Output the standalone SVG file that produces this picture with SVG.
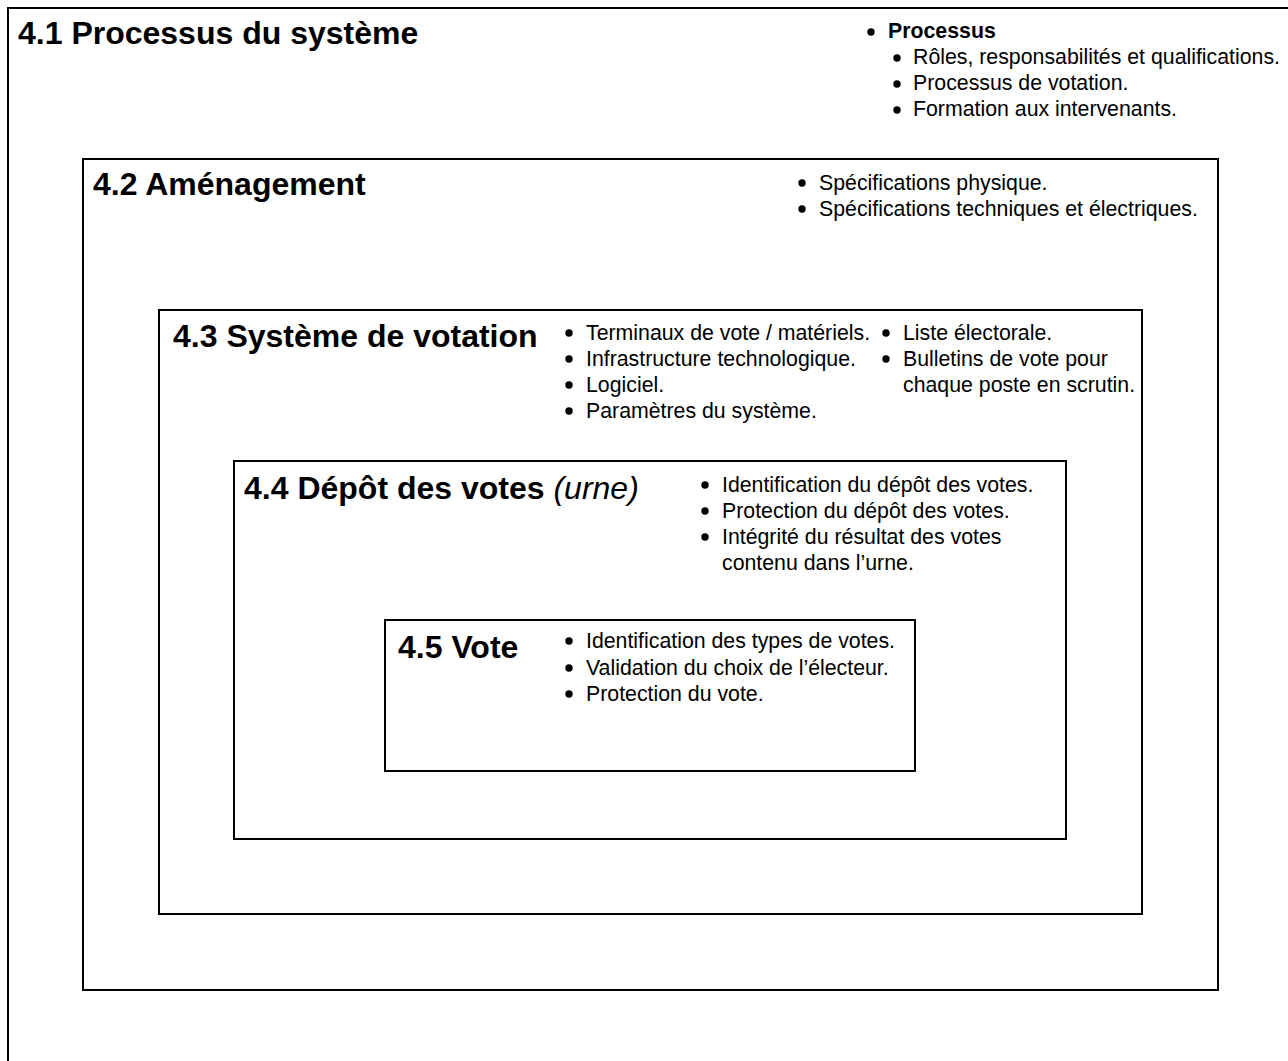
<svg xmlns="http://www.w3.org/2000/svg" width="1288" height="1061" viewBox="0 0 1288 1061">
<style>
.box{fill:none;stroke:#000;stroke-width:2}
.t{font-family:"Liberation Sans",Arial,sans-serif;font-weight:bold;font-size:32px;fill:#000}
.b{font-family:"Liberation Sans",Arial,sans-serif;font-size:21.3px;fill:#000}
.bb{font-family:"Liberation Sans",Arial,sans-serif;font-size:21.3px;font-weight:bold;fill:#000}
.i{font-weight:normal;font-style:italic}
.dot{fill:#000}
</style>
<rect width="1288" height="1061" fill="#fff"/>
<g id="n41">
<rect class="box" x="8" y="8" width="1300" height="1070"/>
<text class="t" x="18" y="44">4.1 Processus du système</text>
<circle class="dot" cx="871" cy="32" r="3.7"/><text class="bb" x="888" y="38">Processus</text>
<circle class="dot" cx="897" cy="58" r="3.7"/><text class="b" x="913" y="64">Rôles, responsabilités et qualifications.</text>
<circle class="dot" cx="897" cy="84" r="3.7"/><text class="b" x="913" y="90">Processus de votation.</text>
<circle class="dot" cx="897" cy="110" r="3.7"/><text class="b" x="913" y="116">Formation aux intervenants.</text>
</g>
<g id="n42">
<rect class="box" x="83" y="159" width="1135" height="831"/>
<text class="t" x="93" y="195">4.2 Aménagement</text>
<circle class="dot" cx="802" cy="183" r="3.7"/><text class="b" x="819" y="190">Spécifications physique.</text>
<circle class="dot" cx="802" cy="209" r="3.7"/><text class="b" x="819" y="216">Spécifications techniques et électriques.</text>
</g>
<g id="n43">
<rect class="box" x="159" y="310" width="983" height="604"/>
<text class="t" x="173" y="347">4.3 Système de votation</text>
<circle class="dot" cx="569" cy="333" r="3.7"/><text class="b" x="586" y="340">Terminaux de vote / matériels.</text>
<circle class="dot" cx="569" cy="359" r="3.7"/><text class="b" x="586" y="366">Infrastructure technologique.</text>
<circle class="dot" cx="569" cy="385" r="3.7"/><text class="b" x="586" y="392">Logiciel.</text>
<circle class="dot" cx="569" cy="411" r="3.7"/><text class="b" x="586" y="418">Paramètres du système.</text>
<circle class="dot" cx="886" cy="333" r="3.7"/><text class="b" x="903" y="340">Liste électorale.</text>
<circle class="dot" cx="886" cy="359" r="3.7"/><text class="b" x="903" y="366">Bulletins de vote pour</text>
<text class="b" x="903" y="392">chaque poste en scrutin.</text>
</g>
<g id="n44">
<rect class="box" x="234" y="461" width="832" height="378"/>
<text class="t" x="244" y="499">4.4 Dépôt des votes <tspan class="i">(urne)</tspan></text>
<circle class="dot" cx="705" cy="485" r="3.7"/><text class="b" x="722" y="492">Identification du dépôt des votes.</text>
<circle class="dot" cx="705" cy="511" r="3.7"/><text class="b" x="722" y="518">Protection du dépôt des votes.</text>
<circle class="dot" cx="705" cy="537" r="3.7"/><text class="b" x="722" y="544">Intégrité du résultat des votes</text>
<text class="b" x="722" y="570">contenu dans l’urne.</text>
</g>
<g id="n45">
<rect class="box" x="385" y="620" width="530" height="151"/>
<text class="t" x="398" y="658">4.5 Vote</text>
<circle class="dot" cx="569" cy="641" r="3.7"/><text class="b" x="586" y="648">Identification des types de votes.</text>
<circle class="dot" cx="569" cy="668" r="3.7"/><text class="b" x="586" y="675">Validation du choix de l’électeur.</text>
<circle class="dot" cx="569" cy="694" r="3.7"/><text class="b" x="586" y="701">Protection du vote.</text>
</g>
<g id="connectors"></g>
</svg>
